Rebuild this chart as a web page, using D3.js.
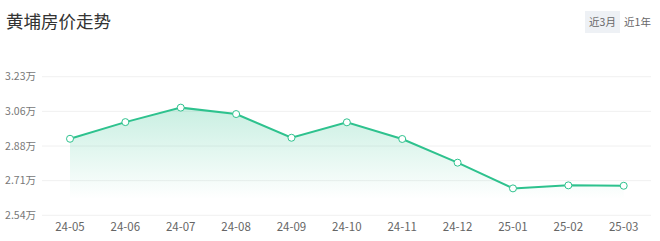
<!DOCTYPE html>
<html>
<head>
<meta charset="utf-8">
<script src="https://cdn.jsdelivr.net/npm/d3@7"></script>
<style>
  body { margin: 0; background: #fff; font-family: "Noto Sans CJK SC", "Noto Sans", sans-serif; }
  #chart { width: 660px; height: 241px; }
</style>
</head>
<body>
<div id="chart"></div>
<script>
const months = ["24-05", "24-06", "24-07", "24-08", "24-09", "24-10", "24-11", "24-12", "25-01", "25-02", "25-03"];
const prices = [29210, 30040, 30760, 30440, 29260, 30030, 29200, 28020, 26740, 26890, 26870];
const yTicks = [25400, 27125, 28850, 30575, 32300];
const yTickLabels = ["2.54万", "2.71万", "2.88万", "3.06万", "3.23万"];
const buttons = ["近3月", "近1年"];

const width = 660, height = 241;

const svg = d3.select("#chart").append("svg")
    .attr("width", width)
    .attr("height", height);

const x = d3.scalePoint()
    .domain(months)
    .range([70, 623.7]);

const y = d3.scaleLinear()
    .domain([25400, 32300])
    .range([215.3, 76.7]);

// title
svg.append("text")
    .attr("x", 6)
    .attr("y", 28)
    .attr("fill", "#333")
    .style("font-size", "17.5px")
    .text("黄埔房价走势");

// buttons
const btn = svg.selectAll(".btn")
    .data(buttons)
    .enter()
    .append("g")
    .attr("transform", (d, i) => `translate(${585 + i * 35},11)`);

btn.append("rect")
    .attr("width", 35)
    .attr("height", 22)
    .attr("fill", (d, i) => i === 0 ? "#eef1f5" : "#fff");

btn.append("text")
    .attr("x", 17.5)
    .attr("y", 15)
    .attr("text-anchor", "middle")
    .attr("fill", "#666")
    .style("font-size", "10.5px")
    .text(d => d);

// grid
svg.selectAll(".grid")
    .data(yTicks)
    .enter()
    .append("line")
    .attr("x1", 42)
    .attr("x2", 651)
    .attr("y1", d => y(d))
    .attr("y2", d => y(d))
    .attr("stroke", "#f0f0f0")
    .attr("stroke-width", 1);

svg.selectAll(".ylab")
    .data(yTicks)
    .enter()
    .append("text")
    .attr("x", 36)
    .attr("y", d => y(d) + 3.5)
    .attr("text-anchor", "end")
    .attr("fill", "#777")
    .style("font-size", "10.5px")
    .text((d, i) => yTickLabels[i]);

svg.selectAll(".xlab")
    .data(months)
    .enter()
    .append("text")
    .attr("x", d => x(d))
    .attr("y", 230.5)
    .attr("text-anchor", "middle")
    .attr("fill", "#666")
    .style("font-size", "11.5px")
    .text(d => d);

// area gradient
const grad = svg.append("defs").append("linearGradient")
    .attr("id", "areaGrad")
    .attr("x1", 0).attr("y1", 0).attr("x2", 0).attr("y2", 1);
grad.append("stop").attr("offset", "0%").attr("stop-color", "#2ec28e").attr("stop-opacity", 0.26);
grad.append("stop").attr("offset", "85%").attr("stop-color", "#2ec28e").attr("stop-opacity", 0.0);

const pts = months.map((m, i) => ({ m, v: prices[i] }));

svg.append("path")
    .datum(pts)
    .attr("fill", "url(#areaGrad)")
    .attr("d", d3.area()
        .x(d => x(d.m))
        .y0(y(25400))
        .y1(d => y(d.v)));

svg.append("path")
    .datum(pts)
    .attr("fill", "none")
    .attr("stroke", "#2ec28e")
    .attr("stroke-width", 2)
    .attr("d", d3.line()
        .x(d => x(d.m))
        .y(d => y(d.v)));

svg.selectAll(".pt")
    .data(pts)
    .enter()
    .append("circle")
    .attr("cx", d => x(d.m))
    .attr("cy", d => y(d.v))
    .attr("r", 3.5)
    .attr("fill", "#fff")
    .attr("stroke", "#2ec28e")
    .attr("stroke-width", 1);
</script>
</body>
</html>
